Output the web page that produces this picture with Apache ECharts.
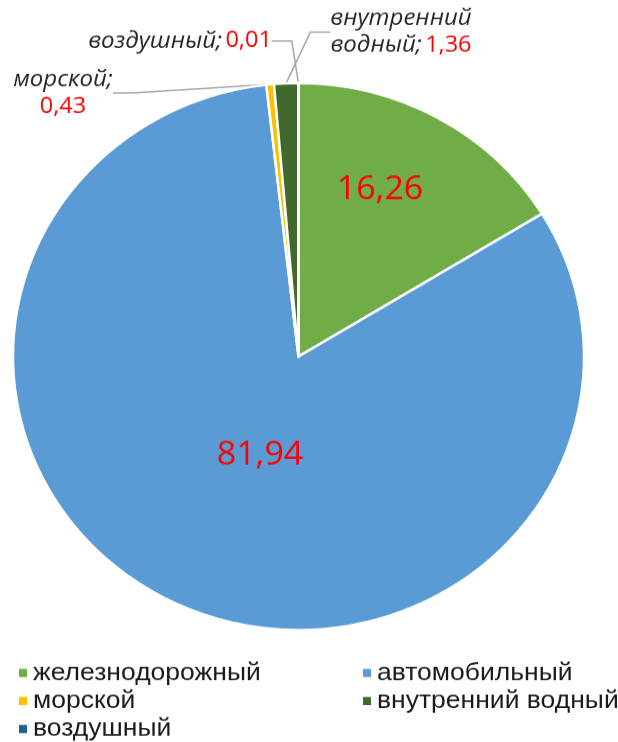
<!DOCTYPE html>
<html><head><meta charset="utf-8">
<script src="https://cdn.jsdelivr.net/npm/echarts@6/dist/echarts.min.js"></script>
<style>html,body{margin:0;padding:0;background:#fff;overflow:hidden}#c{width:618px;transform-origin:0 0}</style>
</head><body><div id="c"></div>
<script>
const categories = ['железнодорожный', 'автомобильный', 'морской', 'внутренний водный', 'воздушный'];
const values = [16.26, 81.94, 0.43, 1.36, 0.01];
const colors = ['#70AD47', '#5B9BD5', '#FFC000', '#43682B', '#255E91'];
const insideLabel = [true, true, false, false, false];

// ---- layout (page pixels) ----
const RX = 285.5, RY = 273.5;          // the reference pie is slightly flattened
const SY = RY / RX;                    // vertical squash applied to the chart canvas
const CX = 298.5, CY = 356.5;
const labelPlacement = [
  { x: 380, y: 190 },
  { x: 260, y: 455 },
  { x: 63, y: 93 },
  { x: 401, y: 32 },
  { x: 180, y: 41 }
];
const legendTop = 659, legendRow = 27.5, legendFont = 26.5;

const el = document.getElementById('c');
el.style.height = (742 / SY) + 'px';
el.style.transform = 'scaleY(' + SY + ')';

const fmt = v => v.toFixed(2).replace('.', ',');

function labelText(i) {
  const v = fmt(values[i]);
  if (insideLabel[i]) return '{big|' + v + '}';
  const name = categories[i];
  if (i === 2) return '{n|' + name + ';}\n{v|' + v + '}';
  if (name.indexOf(' ') > 0) {
    const parts = name.split(' ');
    return '{n|' + parts[0] + '}\n{n|' + parts.slice(1).join(' ') + ';} {v|' + v + '}';
  }
  return '{n|' + name + ';} {v|' + v + '}';
}

const rich = {
  big: { fontFamily: 'Open Sans', fontSize: 34, color: '#FF0000' },
  n: { fontFamily: 'Open Sans', fontStyle: 'italic', fontSize: 24, color: '#262626', lineHeight: 28.5 },
  v: { fontFamily: 'Open Sans', fontSize: 23.5, color: '#FF0000', lineHeight: 28.5 }
};

const data = categories.map((name, i) => ({
  name: name,
  value: values[i],
  itemStyle: { color: colors[i] },
  label: { position: insideLabel[i] ? 'inside' : 'outside', formatter: labelText(i) },
  labelLine: { show: !insideLabel[i] }
}));

const legendBase = {
  orient: 'vertical', top: (legendTop + legendRow / 2) / SY - legendFont / 2, padding: 0,
  icon: 'rect', itemWidth: 10, itemHeight: 10 / SY, itemGap: legendRow / SY - legendFont,
  textStyle: { fontFamily: 'Liberation Sans', fontSize: legendFont, color: '#1a1a1a' }
};

const chart = echarts.init(el);
chart.setOption({
  animation: false,
  color: colors,
  legend: [
    Object.assign({}, legendBase, { left: 17, data: [categories[0], categories[2], categories[4]] }),
    Object.assign({}, legendBase, { left: 361, data: [categories[1], categories[3]] })
  ],
  series: [{
    type: 'pie',
    center: [CX, CY / SY],
    radius: RX,
    startAngle: 90,
    clockwise: true,
    avoidLabelOverlap: false,
    itemStyle: { borderColor: '#fff', borderWidth: 2.5 },
    label: { show: true, rich: rich, align: 'center' },
    labelLine: { lineStyle: { color: '#A6A6A6', width: 1.5 }, length: 10, length2: 20 },
    labelLayout: function (p) {
      const pl = labelPlacement[p.dataIndex];
      return { x: pl.x, y: pl.y / SY, align: 'center', verticalAlign: 'middle' };
    },
    emphasis: { disabled: true },
    data: data
  }]
});
</script></body></html>
